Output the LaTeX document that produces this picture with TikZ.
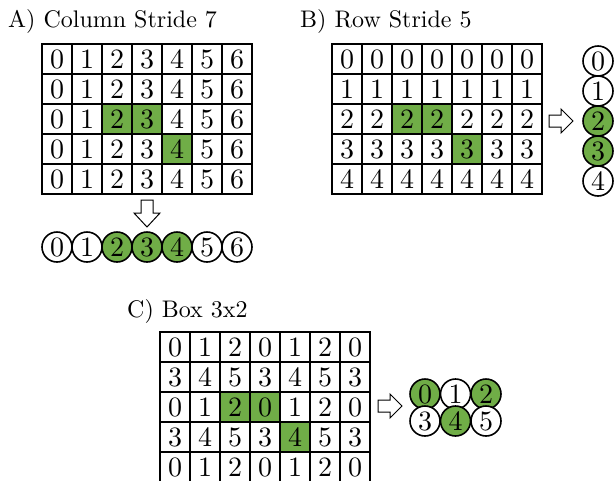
\documentclass[tikz,border=0pt]{standalone}
\usepackage{fontspec}
\setmainfont{lmroman10-regular}[Extension=.otf]
\definecolor{hl}{RGB}{112,173,71}
\begin{document}
\begin{tikzpicture}[x=1pt,y=-1pt,
  txt/.style={font=\fontsize{24}{28}\selectfont, inner sep=0pt},
  cell/.style={draw, line width=1.5pt, minimum size=30pt, inner sep=0pt, font=\fontsize{28}{32}\selectfont},
  circ/.style={circle, draw, line width=1.6pt, minimum size=30pt, inner sep=0pt, font=\fontsize{28}{32}\selectfont},
  blockarrow/.style={draw, fill=white, line width=1pt, line join=miter}]
\useasboundingbox (0,0) rectangle (615,480);
% titles
\node[txt, anchor=base west] (ta) at (8,27) {A) Column Stride 7};
\node[txt, anchor=base west] (tb) at (300,27) {B) Row Stride 5};
\node[txt, anchor=base west] (tc) at (127,317) {C) Box 3x2};
% grids
\foreach \r in {0,...,4} {
  \foreach \c in {0,...,6} {
    \pgfmathtruncatemacro\g{(\r==2)*((\c==2)+(\c==3)) + (\r==3)*(\c==4)}
    \ifnum\g=1 \def\f{hl}\else\def\f{white}\fi
    \pgfmathtruncatemacro\dc{mod(\c,3)+3*mod(\r,2)}
    \node[cell, fill=\f] (a-\r-\c) at (57+30*\c, 59+30*\r) {\c};
    \node[cell, fill=\f] (b-\r-\c) at (347+30*\c, 59+30*\r) {\r};
    \node[cell, fill=\f] (c-\r-\c) at (175+30*\c, 347+30*\r) {\dc};
  }
}
% circles A
\foreach \i in {0,...,6} {
  \pgfmathtruncatemacro\g{(\i==2)+(\i==3)+(\i==4)}
  \ifnum\g=1 \def\f{hl}\else\def\f{white}\fi
  \node[circ, fill=\f] (ca-\i) at (57+30*\i, 247) {\i};
}
% circles B
\foreach \j in {0,...,4} {
  \pgfmathtruncatemacro\g{(\j==2)+(\j==3)}
  \ifnum\g=1 \def\f{hl}\else\def\f{white}\fi
  \node[circ, fill=\f] (cb-\j) at (598, 61+30*\j) {\j};
}
% circles C
\foreach \j in {0,1} {
  \foreach \i in {0,...,2} {
    \pgfmathtruncatemacro\n{\i+3*\j}
    \pgfmathtruncatemacro\g{(\n==0)+(\n==2)+(\n==4)}
    \ifnum\g=1 \def\f{hl}\else\def\f{white}\fi
    \node[circ, fill=\f] (cc-\n) at (425+30.5*\i, 394+27*\j) {\n};
  }
}
% arrows
\draw[blockarrow] (141,200) -- (153,200) -- (153,213) -- (160,213) -- (147,227) -- (134,213) -- (141,213) -- cycle;
\draw[blockarrow] (549,115) -- (561,115) -- (561,109) -- (573,121) -- (561,133) -- (561,127) -- (549,127) -- cycle;
\draw[blockarrow] (378,400) -- (390,400) -- (390,394) -- (402,406) -- (390,418) -- (390,412) -- (378,412) -- cycle;
\end{tikzpicture}
\end{document}
